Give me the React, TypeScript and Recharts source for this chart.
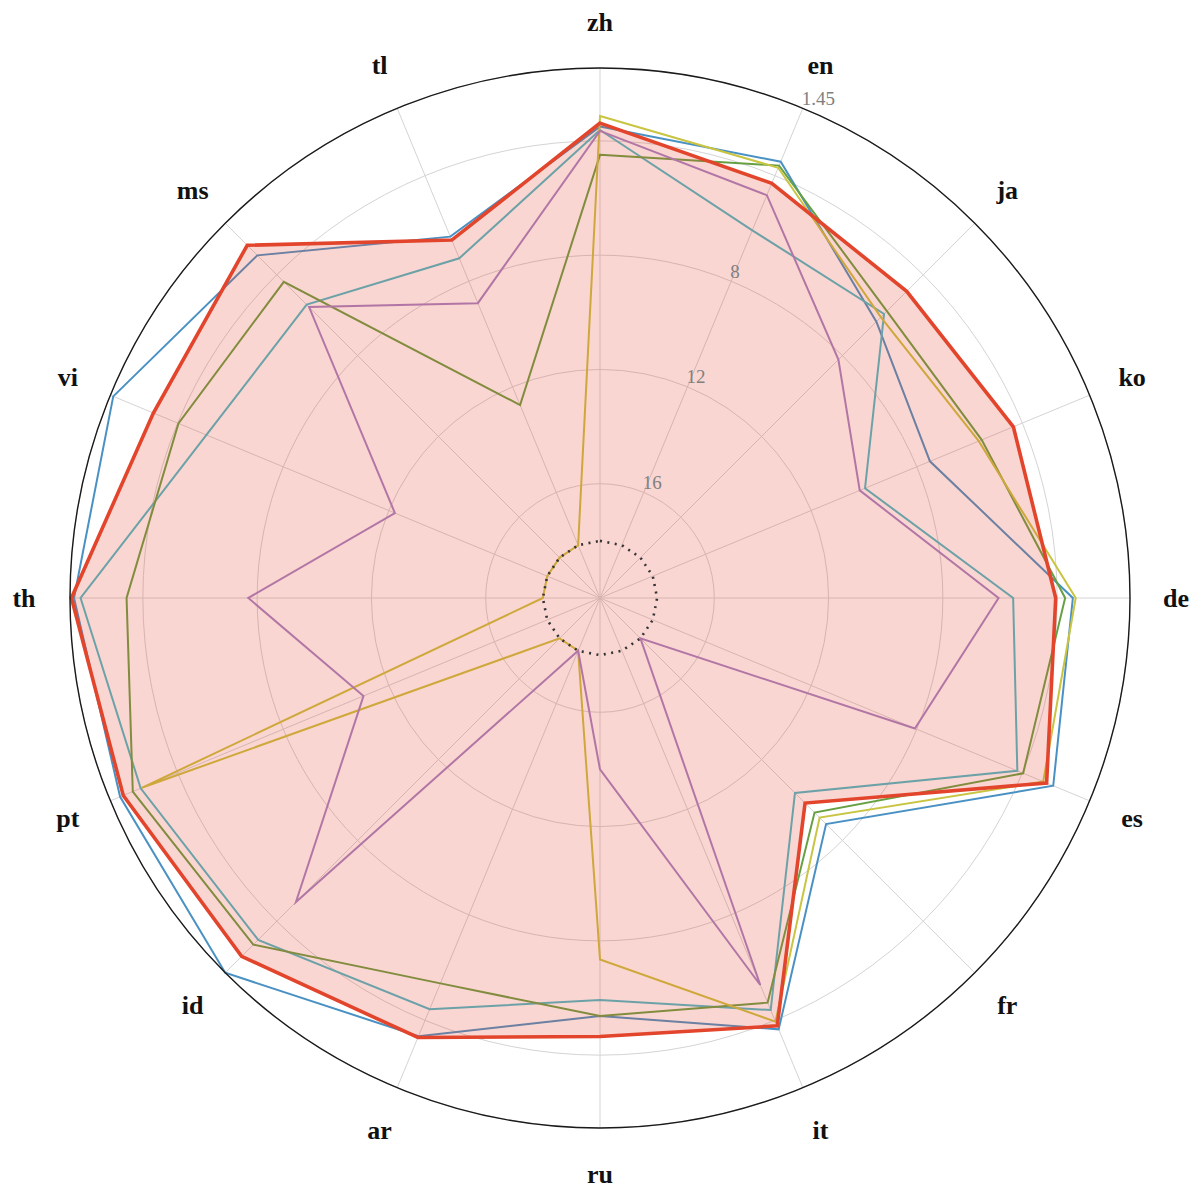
import { RadarChart, Radar, PolarGrid, PolarAngleAxis, PolarRadiusAxis } from 'recharts';

const languages = ['zh', 'en', 'ja', 'ko', 'de', 'es', 'fr', 'it', 'ru', 'ar', 'id', 'pt', 'th', 'vi', 'ms', 'tl'];

// rank-style scores, lower = better (drawn further out)
const mainScores = [3.38, 4.29, 4.82, 4.34, 4.05, 3.08, 9.85, 3.79, 4.65, 3.35, 2.26, 1.94, 1.5, 3.08, 2.54, 6.44];
const blueScores = [3.5, 3.47, 6.32, 7.5, 3.45, 2.83, 8.81, 3.66, 5.37, 3.4, 1.45, 1.82, 1.59, 1.56, 3.04, 6.31];
const tealScores = [3.62, 6.07, 5.94, 9.96, 5.54, 4.19, 10.35, 4.39, 5.93, 4.42, 3.08, 2.6, 1.82, 5.09, 5.48, 7.13];
const greenScores = [4.49, 3.62, 5.8, 5.54, 3.72, 3.97, 9.38, 4.67, 5.37, 5.4, 2.84, 2.3, 3.43, 4.03, 4.35, 12.69];
const yellowScores = [3.13, 3.7, 6.1, 5.65, 3.35, 3.21, 9.13, 3.95, 7.35, 18, 18, 2.64, 18, 18, 18, 18];
const purpleScores = [3.65, 4.74, 8.2, 10.16, 6.05, 8.07, 18, 5.34, 14, 18, 4.95, 11.04, 7.69, 12.23, 5.6, 8.83];
const floorScores = [18, 18, 18, 18, 18, 18, 18, 18, 18, 18, 18, 18, 18, 18, 18, 18];

const radiusTicks = [1.45, 4, 8, 12, 16];
const radiusDomain = [1.45, 20];

const data = languages.map((lang, i) => ({
  lang,
  main: mainScores[i],
  blue: blueScores[i],
  teal: tealScores[i],
  green: greenScores[i],
  yellow: yellowScores[i],
  purple: purpleScores[i],
  floor: floorScores[i],
}));

const CX = 600;
const CY = 598;
const OUTER = 530;
const LABEL_R = 576;
const FONT = "'Liberation Serif', 'DejaVu Serif', serif";

function AngleTick(props: any) {
  const { x, y, payload } = props;
  const dx = x - CX;
  const dy = y - CY;
  const len = Math.hypot(dx, dy) || 1;
  return (
    <text
      x={CX + (dx / len) * LABEL_R}
      y={CY + (dy / len) * LABEL_R}
      textAnchor="middle"
      dominantBaseline="central"
      fontFamily={FONT}
      fontWeight={700}
      fontSize={26}
      fill="#111"
    >
      {payload.value}
    </text>
  );
}

function RadiusTick(props: any) {
  const { x, y, payload } = props;
  // the 4 ring has no label in the original
  if (payload.value === 4) return <g />;
  return (
    <text
      x={x - 1}
      y={y - 10}
      textAnchor="start"
      dominantBaseline="central"
      fontFamily={FONT}
      fontSize={19}
      fill="#808080"
    >
      {payload.value}
    </text>
  );
}

export default function App() {
  return (
    <div style={{ margin: -8, width: 1200, height: 1200, background: '#fff' }}>
      <RadarChart
        width={1200}
        height={1200}
        data={data}
        cx={CX}
        cy={CY}
        outerRadius={OUTER}
        margin={{ top: 0, right: 0, bottom: 0, left: 0 }}
      >
        <PolarGrid gridType="circle" stroke="#d4d4d4" strokeWidth={1} />
        <PolarRadiusAxis
          type="number"
          domain={radiusDomain}
          ticks={radiusTicks}
          allowDecimals
          reversed
          allowDataOverflow
          angle={67.5}
          axisLine={false}
          tickLine={false}
          tick={<RadiusTick />}
        />
        <PolarAngleAxis
          dataKey="lang"
          axisLineType="circle"
          axisLine={{ stroke: '#1a1a1a', strokeWidth: 1.4 }}
          tickLine={false}
          tick={<AngleTick />}
        />
        <Radar dataKey="blue" stroke="#4a91c3" strokeWidth={2} fill="none" isAnimationActive={false} />
        <Radar dataKey="teal" stroke="#4bbccb" strokeWidth={2} fill="none" isAnimationActive={false} />
        <Radar dataKey="green" stroke="#67a043" strokeWidth={2} fill="none" isAnimationActive={false} />
        <Radar dataKey="yellow" stroke="#c9c441" strokeWidth={2} fill="none" isAnimationActive={false} />
        <Radar dataKey="purple" stroke="#a585c8" strokeWidth={2} fill="none" isAnimationActive={false} />
        <Radar
          dataKey="main"
          stroke="#e2452c"
          strokeWidth={3.6}
          fill="#e2452c"
          fillOpacity={0.22}
          isAnimationActive={false}
        />
        <Radar
          dataKey="floor"
          stroke="#333"
          strokeWidth={2.6}
          strokeDasharray="2 5.5"
          fill="none"
          isAnimationActive={false}
        />
      </RadarChart>
    </div>
  );
}
